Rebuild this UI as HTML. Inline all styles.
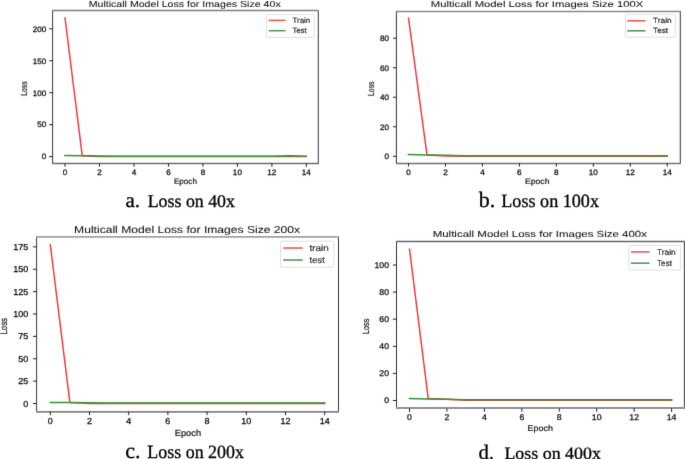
<!DOCTYPE html>
<html><head><meta charset="utf-8"><style>
html,body{margin:0;padding:0;background:#fff;width:685px;height:459px;overflow:hidden}
svg{display:block}
text{text-rendering:geometricPrecision;font-family:"Liberation Sans",sans-serif;fill:#111;}
text.t{stroke:#111;stroke-width:0.28px}
text.l{stroke:#111;stroke-width:0.2px}
text.ti{stroke:#111;stroke-width:0.06px}
text.cap{font-family:"Liberation Serif",serif;fill:#000;stroke:#000;stroke-width:0.3px}
</style></head><body>
<svg width="685" height="459" viewBox="0 0 685 459">
<rect width="685" height="459" fill="#fff"/>
<defs><filter id="f" x="0" y="0" width="685" height="459" filterUnits="userSpaceOnUse"><feConvolveMatrix order="3" kernelMatrix="1 10 1 10 100 10 1 10 1" divisor="144" edgeMode="none"/></filter></defs>
<g id="g" filter="url(#f)">
<polyline points="65,18 82.24,155.8 99.48,156.6 116.72,156.4 133.96,156.4 151.2,156.4 168.44,156.4 185.68,156.4 202.92,156.4 220.16,156.4 237.4,156.4 254.64,156.4 271.88,156.4 289.12,156.4 306.36,156.4" fill="none" stroke="#f23c40" stroke-width="1.5" stroke-linejoin="round" stroke-linecap="square"/>
<polyline points="65,155.4 82.24,155.7 99.48,156 116.72,156.3 133.96,156.3 151.2,156.3 168.44,156.3 185.68,156.3 202.92,156.3 220.16,156.3 237.4,156.3 254.64,156.3 271.88,156.2 289.12,155.7 306.36,156.2" fill="none" stroke="#34913a" stroke-width="1.5" stroke-linejoin="round" stroke-linecap="square"/>
<line x1="52.6" y1="10.6" x2="52.6" y2="163.3" stroke="#333" stroke-width="1"/>
<line x1="318.3" y1="10.6" x2="318.3" y2="163.3" stroke="#333" stroke-width="1"/>
<line x1="52.1" y1="10.5" x2="318.8" y2="10.5" stroke="#808080" stroke-width="1.6"/>
<line x1="52.1" y1="163.5" x2="318.8" y2="163.5" stroke="#6c6c6c" stroke-width="1.5"/>
<line x1="65" y1="163.3" x2="65" y2="166.7" stroke="#222" stroke-width="1"/>
<text class="t" x="62.74" y="174.7" font-size="7.9" textLength="4.52" lengthAdjust="spacingAndGlyphs">0</text>
<line x1="99.48" y1="163.3" x2="99.48" y2="166.7" stroke="#222" stroke-width="1"/>
<text class="t" x="97.22" y="174.7" font-size="7.9" textLength="4.52" lengthAdjust="spacingAndGlyphs">2</text>
<line x1="133.96" y1="163.3" x2="133.96" y2="166.7" stroke="#222" stroke-width="1"/>
<text class="t" x="131.7" y="174.7" font-size="7.9" textLength="4.52" lengthAdjust="spacingAndGlyphs">4</text>
<line x1="168.44" y1="163.3" x2="168.44" y2="166.7" stroke="#222" stroke-width="1"/>
<text class="t" x="166.18" y="174.7" font-size="7.9" textLength="4.52" lengthAdjust="spacingAndGlyphs">6</text>
<line x1="202.92" y1="163.3" x2="202.92" y2="166.7" stroke="#222" stroke-width="1"/>
<text class="t" x="200.66" y="174.7" font-size="7.9" textLength="4.52" lengthAdjust="spacingAndGlyphs">8</text>
<line x1="237.4" y1="163.3" x2="237.4" y2="166.7" stroke="#222" stroke-width="1"/>
<text class="t" x="232.88" y="174.7" font-size="7.9" textLength="9.03" lengthAdjust="spacingAndGlyphs">10</text>
<line x1="271.88" y1="163.3" x2="271.88" y2="166.7" stroke="#222" stroke-width="1"/>
<text class="t" x="267.36" y="174.7" font-size="7.9" textLength="9.03" lengthAdjust="spacingAndGlyphs">12</text>
<line x1="306.36" y1="163.3" x2="306.36" y2="166.7" stroke="#222" stroke-width="1"/>
<text class="t" x="301.84" y="174.7" font-size="7.9" textLength="9.03" lengthAdjust="spacingAndGlyphs">14</text>
<line x1="49.2" y1="156.6" x2="52.6" y2="156.6" stroke="#222" stroke-width="1"/>
<text class="t" x="41.78" y="159.43" font-size="7.9" textLength="4.52" lengthAdjust="spacingAndGlyphs">0</text>
<line x1="49.2" y1="124.65" x2="52.6" y2="124.65" stroke="#222" stroke-width="1"/>
<text class="t" x="37.27" y="127.48" font-size="7.9" textLength="9.03" lengthAdjust="spacingAndGlyphs">50</text>
<line x1="49.2" y1="92.7" x2="52.6" y2="92.7" stroke="#222" stroke-width="1"/>
<text class="t" x="32.75" y="95.53" font-size="7.9" textLength="13.55" lengthAdjust="spacingAndGlyphs">100</text>
<line x1="49.2" y1="60.75" x2="52.6" y2="60.75" stroke="#222" stroke-width="1"/>
<text class="t" x="32.75" y="63.58" font-size="7.9" textLength="13.55" lengthAdjust="spacingAndGlyphs">150</text>
<line x1="49.2" y1="28.8" x2="52.6" y2="28.8" stroke="#222" stroke-width="1"/>
<text class="t" x="32.75" y="31.63" font-size="7.9" textLength="13.55" lengthAdjust="spacingAndGlyphs">200</text>
<text class="ti" x="88.7" y="6.7" font-size="8.7" textLength="192" lengthAdjust="spacingAndGlyphs">Multicall Model Loss for Images Size 40x</text>
<text class="l" x="173.9" y="184.2" font-size="8" textLength="23" lengthAdjust="spacingAndGlyphs">Epoch</text>
<text class="l" transform="translate(26.8,95.8) rotate(-90)" x="0" y="0" font-size="8.8" textLength="14.5" lengthAdjust="spacingAndGlyphs">Loss</text>
<rect x="266.4" y="14.6" width="47.8" height="22.8" rx="1.5" fill="#fff" fill-opacity="0.8" stroke="#d8d8d8" stroke-width="0.8"/>
<line x1="268.7" y1="20.4" x2="285.6" y2="20.4" stroke="#f23c40" stroke-width="1.5"/>
<line x1="268.7" y1="30.7" x2="285.6" y2="30.7" stroke="#34913a" stroke-width="1.5"/>
<text class="l" x="292.6" y="22.9" font-size="7.8" textLength="17.5" lengthAdjust="spacingAndGlyphs">Train</text>
<text class="l" x="292.6" y="33.3" font-size="7.8" textLength="14" lengthAdjust="spacingAndGlyphs">Test</text>
<text class="cap" x="125.5" y="207" font-size="21">a.</text>
<text class="cap" x="147.7" y="207" font-size="18" textLength="87.3" lengthAdjust="spacingAndGlyphs">Loss on 40x</text>
<polyline points="408.5,18.2 426.98,154.9 445.46,155.9 463.94,156.15 482.42,156.15 500.9,156.15 519.38,156.15 537.86,156.15 556.34,156.15 574.82,156.15 593.3,156.15 611.78,156.15 630.26,156.15 648.74,156.15 667.22,156.15" fill="none" stroke="#f23c40" stroke-width="1.5" stroke-linejoin="round" stroke-linecap="square"/>
<polyline points="408.5,154.5 426.98,154.9 445.46,155.2 463.94,155.8 482.42,155.8 500.9,155.8 519.38,155.8 537.86,155.8 556.34,155.8 574.82,155.8 593.3,155.8 611.78,155.8 630.26,155.8 648.74,155.8 667.22,155.8" fill="none" stroke="#34913a" stroke-width="1.5" stroke-linejoin="round" stroke-linecap="square"/>
<line x1="396.4" y1="11.3" x2="396.4" y2="163.2" stroke="#333" stroke-width="1"/>
<line x1="680.3" y1="11.3" x2="680.3" y2="163.2" stroke="#333" stroke-width="1"/>
<line x1="395.9" y1="11.4" x2="680.8" y2="11.4" stroke="#888888" stroke-width="1.5"/>
<line x1="395.9" y1="163.5" x2="680.8" y2="163.5" stroke="#707070" stroke-width="1.5"/>
<line x1="408.5" y1="163.2" x2="408.5" y2="166.6" stroke="#222" stroke-width="1"/>
<text class="t" x="406.24" y="174.9" font-size="7.9" textLength="4.52" lengthAdjust="spacingAndGlyphs">0</text>
<line x1="445.46" y1="163.2" x2="445.46" y2="166.6" stroke="#222" stroke-width="1"/>
<text class="t" x="443.2" y="174.9" font-size="7.9" textLength="4.52" lengthAdjust="spacingAndGlyphs">2</text>
<line x1="482.42" y1="163.2" x2="482.42" y2="166.6" stroke="#222" stroke-width="1"/>
<text class="t" x="480.16" y="174.9" font-size="7.9" textLength="4.52" lengthAdjust="spacingAndGlyphs">4</text>
<line x1="519.38" y1="163.2" x2="519.38" y2="166.6" stroke="#222" stroke-width="1"/>
<text class="t" x="517.12" y="174.9" font-size="7.9" textLength="4.52" lengthAdjust="spacingAndGlyphs">6</text>
<line x1="556.34" y1="163.2" x2="556.34" y2="166.6" stroke="#222" stroke-width="1"/>
<text class="t" x="554.08" y="174.9" font-size="7.9" textLength="4.52" lengthAdjust="spacingAndGlyphs">8</text>
<line x1="593.3" y1="163.2" x2="593.3" y2="166.6" stroke="#222" stroke-width="1"/>
<text class="t" x="588.78" y="174.9" font-size="7.9" textLength="9.03" lengthAdjust="spacingAndGlyphs">10</text>
<line x1="630.26" y1="163.2" x2="630.26" y2="166.6" stroke="#222" stroke-width="1"/>
<text class="t" x="625.74" y="174.9" font-size="7.9" textLength="9.03" lengthAdjust="spacingAndGlyphs">12</text>
<line x1="667.22" y1="163.2" x2="667.22" y2="166.6" stroke="#222" stroke-width="1"/>
<text class="t" x="662.7" y="174.9" font-size="7.9" textLength="9.03" lengthAdjust="spacingAndGlyphs">14</text>
<line x1="393" y1="156.3" x2="396.4" y2="156.3" stroke="#222" stroke-width="1"/>
<text class="t" x="384.48" y="159.13" font-size="7.9" textLength="4.52" lengthAdjust="spacingAndGlyphs">0</text>
<line x1="393" y1="126.78" x2="396.4" y2="126.78" stroke="#222" stroke-width="1"/>
<text class="t" x="379.97" y="129.61" font-size="7.9" textLength="9.03" lengthAdjust="spacingAndGlyphs">20</text>
<line x1="393" y1="97.26" x2="396.4" y2="97.26" stroke="#222" stroke-width="1"/>
<text class="t" x="379.97" y="100.09" font-size="7.9" textLength="9.03" lengthAdjust="spacingAndGlyphs">40</text>
<line x1="393" y1="67.74" x2="396.4" y2="67.74" stroke="#222" stroke-width="1"/>
<text class="t" x="379.97" y="70.57" font-size="7.9" textLength="9.03" lengthAdjust="spacingAndGlyphs">60</text>
<line x1="393" y1="38.22" x2="396.4" y2="38.22" stroke="#222" stroke-width="1"/>
<text class="t" x="379.97" y="41.05" font-size="7.9" textLength="9.03" lengthAdjust="spacingAndGlyphs">80</text>
<text class="ti" x="430.8" y="7.2" font-size="8.5" textLength="212.5" lengthAdjust="spacingAndGlyphs">Multicall Model Loss for Images Size 100X</text>
<text class="l" x="524.9" y="183.5" font-size="8" textLength="24.6" lengthAdjust="spacingAndGlyphs">Epoch</text>
<text class="l" transform="translate(374,96) rotate(-90)" x="0" y="0" font-size="8.8" textLength="14.5" lengthAdjust="spacingAndGlyphs">Loss</text>
<rect x="625.4" y="14.6" width="49.9" height="22.6" rx="1.5" fill="#fff" fill-opacity="0.8" stroke="#d8d8d8" stroke-width="0.8"/>
<line x1="627.2" y1="20.8" x2="645.5" y2="20.8" stroke="#f23c40" stroke-width="1.5"/>
<line x1="627.2" y1="30.8" x2="645.5" y2="30.8" stroke="#34913a" stroke-width="1.5"/>
<text class="l" x="653.1" y="23.2" font-size="7.7" textLength="18.5" lengthAdjust="spacingAndGlyphs">Train</text>
<text class="l" x="653.1" y="33.3" font-size="7.7" textLength="15" lengthAdjust="spacingAndGlyphs">Test</text>
<text class="cap" x="478.7" y="206.9" font-size="22">b.</text>
<text class="cap" x="501.3" y="206.9" font-size="18.8" textLength="97.7" lengthAdjust="spacingAndGlyphs">Loss on 100x</text>
<polyline points="50.3,244.9 69.9,402.6 89.5,403.5 109.1,403.5 128.7,403.5 148.3,403.5 167.9,403.5 187.5,403.5 207.1,403.5 226.7,403.5 246.3,403.5 265.9,403.5 285.5,403.5 305.1,403.5 324.7,403.5" fill="none" stroke="#f23c40" stroke-width="1.5" stroke-linejoin="round" stroke-linecap="square"/>
<polyline points="50.3,402.5 69.9,402.6 89.5,402.8 109.1,403 128.7,403 148.3,403 167.9,403 187.5,403 207.1,403 226.7,403 246.3,403 265.9,403 285.5,403 305.1,403 324.7,403" fill="none" stroke="#34913a" stroke-width="1.5" stroke-linejoin="round" stroke-linecap="square"/>
<line x1="36.6" y1="237" x2="36.6" y2="411.5" stroke="#333" stroke-width="1"/>
<line x1="338.5" y1="237" x2="338.5" y2="411.5" stroke="#333" stroke-width="1"/>
<line x1="36.1" y1="236.9" x2="339" y2="236.9" stroke="#a0a0a0" stroke-width="1.7"/>
<line x1="36.1" y1="411.8" x2="339" y2="411.8" stroke="#808080" stroke-width="1.7"/>
<line x1="50.3" y1="411.5" x2="50.3" y2="415.1" stroke="#222" stroke-width="1"/>
<text class="t" x="47.79" y="424" font-size="8.7" textLength="5.02" lengthAdjust="spacingAndGlyphs">0</text>
<line x1="89.5" y1="411.5" x2="89.5" y2="415.1" stroke="#222" stroke-width="1"/>
<text class="t" x="86.99" y="424" font-size="8.7" textLength="5.02" lengthAdjust="spacingAndGlyphs">2</text>
<line x1="128.7" y1="411.5" x2="128.7" y2="415.1" stroke="#222" stroke-width="1"/>
<text class="t" x="126.19" y="424" font-size="8.7" textLength="5.02" lengthAdjust="spacingAndGlyphs">4</text>
<line x1="167.9" y1="411.5" x2="167.9" y2="415.1" stroke="#222" stroke-width="1"/>
<text class="t" x="165.39" y="424" font-size="8.7" textLength="5.02" lengthAdjust="spacingAndGlyphs">6</text>
<line x1="207.1" y1="411.5" x2="207.1" y2="415.1" stroke="#222" stroke-width="1"/>
<text class="t" x="204.59" y="424" font-size="8.7" textLength="5.02" lengthAdjust="spacingAndGlyphs">8</text>
<line x1="246.3" y1="411.5" x2="246.3" y2="415.1" stroke="#222" stroke-width="1"/>
<text class="t" x="241.28" y="424" font-size="8.7" textLength="10.05" lengthAdjust="spacingAndGlyphs">10</text>
<line x1="285.5" y1="411.5" x2="285.5" y2="415.1" stroke="#222" stroke-width="1"/>
<text class="t" x="280.48" y="424" font-size="8.7" textLength="10.05" lengthAdjust="spacingAndGlyphs">12</text>
<line x1="324.7" y1="411.5" x2="324.7" y2="415.1" stroke="#222" stroke-width="1"/>
<text class="t" x="319.68" y="424" font-size="8.7" textLength="10.05" lengthAdjust="spacingAndGlyphs">14</text>
<line x1="33" y1="403.5" x2="36.6" y2="403.5" stroke="#222" stroke-width="1"/>
<text class="t" x="23.38" y="406.61" font-size="8.7" textLength="5.02" lengthAdjust="spacingAndGlyphs">0</text>
<line x1="33" y1="381.12" x2="36.6" y2="381.12" stroke="#222" stroke-width="1"/>
<text class="t" x="18.35" y="384.24" font-size="8.7" textLength="10.05" lengthAdjust="spacingAndGlyphs">25</text>
<line x1="33" y1="358.75" x2="36.6" y2="358.75" stroke="#222" stroke-width="1"/>
<text class="t" x="18.35" y="361.86" font-size="8.7" textLength="10.05" lengthAdjust="spacingAndGlyphs">50</text>
<line x1="33" y1="336.38" x2="36.6" y2="336.38" stroke="#222" stroke-width="1"/>
<text class="t" x="18.35" y="339.49" font-size="8.7" textLength="10.05" lengthAdjust="spacingAndGlyphs">75</text>
<line x1="33" y1="314" x2="36.6" y2="314" stroke="#222" stroke-width="1"/>
<text class="t" x="13.33" y="317.11" font-size="8.7" textLength="15.07" lengthAdjust="spacingAndGlyphs">100</text>
<line x1="33" y1="291.62" x2="36.6" y2="291.62" stroke="#222" stroke-width="1"/>
<text class="t" x="13.33" y="294.74" font-size="8.7" textLength="15.07" lengthAdjust="spacingAndGlyphs">125</text>
<line x1="33" y1="269.25" x2="36.6" y2="269.25" stroke="#222" stroke-width="1"/>
<text class="t" x="13.33" y="272.36" font-size="8.7" textLength="15.07" lengthAdjust="spacingAndGlyphs">150</text>
<line x1="33" y1="246.88" x2="36.6" y2="246.88" stroke="#222" stroke-width="1"/>
<text class="t" x="13.33" y="249.99" font-size="8.7" textLength="15.07" lengthAdjust="spacingAndGlyphs">175</text>
<text class="ti" x="74.1" y="233.1" font-size="10" textLength="226" lengthAdjust="spacingAndGlyphs">Multicall Model Loss for Images Size 200x</text>
<text class="l" x="174.7" y="435.5" font-size="8.9" textLength="26.4" lengthAdjust="spacingAndGlyphs">Epoch</text>
<text class="l" transform="translate(6.8,334.5) rotate(-90)" x="0" y="0" font-size="9.6" textLength="16.5" lengthAdjust="spacingAndGlyphs">Loss</text>
<rect x="280.5" y="241.2" width="53.4" height="26" rx="1.5" fill="#fff" fill-opacity="0.8" stroke="#d8d8d8" stroke-width="0.8"/>
<line x1="283.3" y1="248" x2="302.7" y2="248" stroke="#f23c40" stroke-width="1.5"/>
<line x1="283.3" y1="260" x2="302.7" y2="260" stroke="#34913a" stroke-width="1.5"/>
<text class="l" x="309.6" y="250.8" font-size="8.8" textLength="19.2" lengthAdjust="spacingAndGlyphs">train</text>
<text class="l" x="309.6" y="262.7" font-size="8.8" textLength="15.3" lengthAdjust="spacingAndGlyphs">test</text>
<text class="cap" x="125.3" y="458.3" font-size="22">c.</text>
<text class="cap" x="147.3" y="458.3" font-size="18.7" textLength="96.7" lengthAdjust="spacingAndGlyphs">Loss on 200x</text>
<polyline points="409.5,249.2 428.22,398.6 446.94,399.2 465.66,400.3 484.38,400.3 503.1,400.3 521.82,400.3 540.54,400.3 559.26,400.3 577.98,400.3 596.7,400.3 615.42,400.3 634.14,400.3 652.86,400.3 671.58,400.3" fill="none" stroke="#f23c40" stroke-width="1.5" stroke-linejoin="round" stroke-linecap="square"/>
<polyline points="409.5,398.5 428.22,398.9 446.94,399.3 465.66,399.8 484.38,399.8 503.1,399.8 521.82,399.8 540.54,399.8 559.26,399.8 577.98,399.8 596.7,399.8 615.42,399.8 634.14,399.8 652.86,399.8 671.58,399.8" fill="none" stroke="#34913a" stroke-width="1.5" stroke-linejoin="round" stroke-linecap="square"/>
<line x1="396.5" y1="241.4" x2="396.5" y2="408.2" stroke="#333" stroke-width="1"/>
<line x1="684.4" y1="241.4" x2="684.4" y2="408.2" stroke="#333" stroke-width="1"/>
<line x1="396" y1="241.4" x2="684.9" y2="241.4" stroke="#666666" stroke-width="1.5"/>
<line x1="396" y1="408" x2="684.9" y2="408" stroke="#929292" stroke-width="1.9"/>
<line x1="409.5" y1="408.2" x2="409.5" y2="411.8" stroke="#222" stroke-width="1"/>
<text class="t" x="407.08" y="420" font-size="8.3" textLength="4.83" lengthAdjust="spacingAndGlyphs">0</text>
<line x1="446.94" y1="408.2" x2="446.94" y2="411.8" stroke="#222" stroke-width="1"/>
<text class="t" x="444.52" y="420" font-size="8.3" textLength="4.83" lengthAdjust="spacingAndGlyphs">2</text>
<line x1="484.38" y1="408.2" x2="484.38" y2="411.8" stroke="#222" stroke-width="1"/>
<text class="t" x="481.96" y="420" font-size="8.3" textLength="4.83" lengthAdjust="spacingAndGlyphs">4</text>
<line x1="521.82" y1="408.2" x2="521.82" y2="411.8" stroke="#222" stroke-width="1"/>
<text class="t" x="519.4" y="420" font-size="8.3" textLength="4.83" lengthAdjust="spacingAndGlyphs">6</text>
<line x1="559.26" y1="408.2" x2="559.26" y2="411.8" stroke="#222" stroke-width="1"/>
<text class="t" x="556.84" y="420" font-size="8.3" textLength="4.83" lengthAdjust="spacingAndGlyphs">8</text>
<line x1="596.7" y1="408.2" x2="596.7" y2="411.8" stroke="#222" stroke-width="1"/>
<text class="t" x="591.87" y="420" font-size="8.3" textLength="9.67" lengthAdjust="spacingAndGlyphs">10</text>
<line x1="634.14" y1="408.2" x2="634.14" y2="411.8" stroke="#222" stroke-width="1"/>
<text class="t" x="629.31" y="420" font-size="8.3" textLength="9.67" lengthAdjust="spacingAndGlyphs">12</text>
<line x1="671.58" y1="408.2" x2="671.58" y2="411.8" stroke="#222" stroke-width="1"/>
<text class="t" x="666.75" y="420" font-size="8.3" textLength="9.67" lengthAdjust="spacingAndGlyphs">14</text>
<line x1="392.9" y1="400.5" x2="396.5" y2="400.5" stroke="#222" stroke-width="1"/>
<text class="t" x="384.17" y="403.47" font-size="8.3" textLength="4.83" lengthAdjust="spacingAndGlyphs">0</text>
<line x1="392.9" y1="373.4" x2="396.5" y2="373.4" stroke="#222" stroke-width="1"/>
<text class="t" x="379.33" y="376.37" font-size="8.3" textLength="9.67" lengthAdjust="spacingAndGlyphs">20</text>
<line x1="392.9" y1="346.3" x2="396.5" y2="346.3" stroke="#222" stroke-width="1"/>
<text class="t" x="379.33" y="349.27" font-size="8.3" textLength="9.67" lengthAdjust="spacingAndGlyphs">40</text>
<line x1="392.9" y1="319.2" x2="396.5" y2="319.2" stroke="#222" stroke-width="1"/>
<text class="t" x="379.33" y="322.17" font-size="8.3" textLength="9.67" lengthAdjust="spacingAndGlyphs">60</text>
<line x1="392.9" y1="292.1" x2="396.5" y2="292.1" stroke="#222" stroke-width="1"/>
<text class="t" x="379.33" y="295.07" font-size="8.3" textLength="9.67" lengthAdjust="spacingAndGlyphs">80</text>
<line x1="392.9" y1="265" x2="396.5" y2="265" stroke="#222" stroke-width="1"/>
<text class="t" x="374.5" y="267.97" font-size="8.3" textLength="14.5" lengthAdjust="spacingAndGlyphs">100</text>
<text class="ti" x="432.7" y="236.8" font-size="8.8" textLength="214.3" lengthAdjust="spacingAndGlyphs">Multicall Model Loss for Images Size 400x</text>
<text class="l" x="527.6" y="430.8" font-size="8.4" textLength="25.4" lengthAdjust="spacingAndGlyphs">Epoch</text>
<text class="l" transform="translate(368.6,334.1) rotate(-90)" x="0" y="0" font-size="9.2" textLength="15.4" lengthAdjust="spacingAndGlyphs">Loss</text>
<rect x="628.7" y="245.4" width="51.9" height="24.5" rx="1.5" fill="#fff" fill-opacity="0.8" stroke="#d8d8d8" stroke-width="0.8"/>
<line x1="630.9" y1="251.9" x2="649.6" y2="251.9" stroke="#f23c40" stroke-width="1.5"/>
<line x1="630.9" y1="263.2" x2="649.6" y2="263.2" stroke="#34913a" stroke-width="1.5"/>
<text class="l" x="657" y="254.6" font-size="8.2" textLength="18.7" lengthAdjust="spacingAndGlyphs">Train</text>
<text class="l" x="657" y="266" font-size="8.2" textLength="15.1" lengthAdjust="spacingAndGlyphs">Test</text>
<text class="cap" x="478.4" y="458.5" font-size="20.8">d.</text>
<text class="cap" x="504.4" y="458.5" font-size="17.4" textLength="96.5" lengthAdjust="spacingAndGlyphs">Loss on 400x</text>
</g>
</svg>
</body></html>
